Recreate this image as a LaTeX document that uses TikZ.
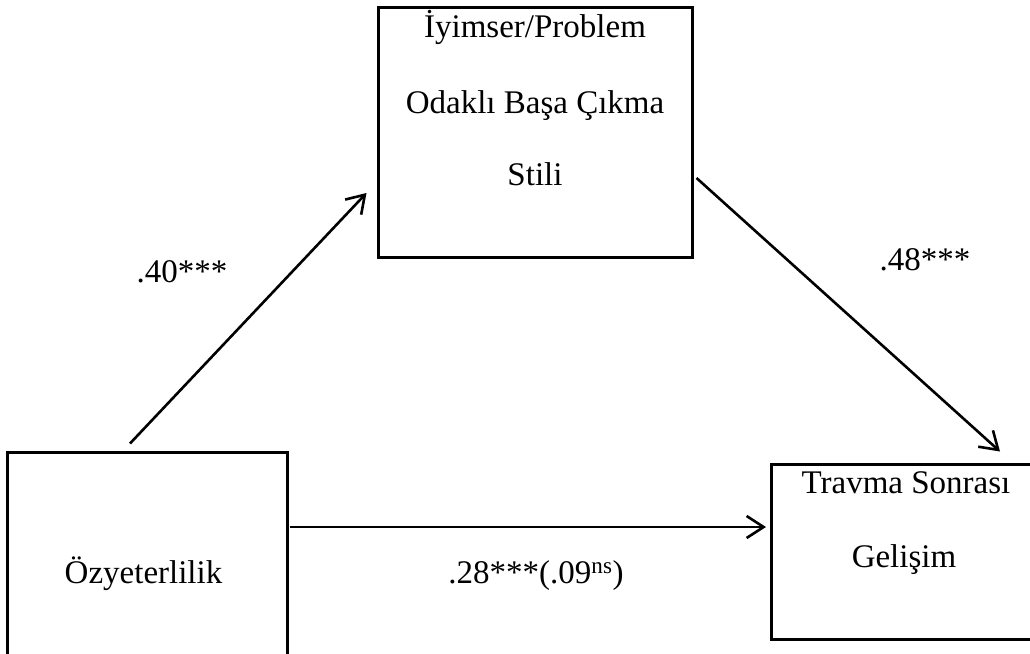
\documentclass[tikz,border=0pt]{standalone}
\usepackage{fontspec}
\setmainfont{Liberation Serif}
\usetikzlibrary{arrows.meta}
\begin{document}
\begin{tikzpicture}[x=1pt,y=-1pt,
  box/.style={draw, line width=3pt, minimum width=#1, inner sep=0pt},
  lbl/.style={inner sep=0pt, anchor=base, font=\fontsize{33}{40}\selectfont},
  arr/.style={line width=2.6pt, -{Straight Barb[length=17pt,width=22pt,line width=2.6pt]}}]
  \clip (0,0) rectangle (1030,653);
  \useasboundingbox (0,0) rectangle (1030,653);

  % boxes
  \node[box=314pt, minimum height=250pt] (cope) at (535,132) {};
  \node[box=280pt, minimum height=210pt] (self) at (147,557) {};
  \node[box=269pt, minimum height=175pt] (ptg)  at (905.5,551.5) {};

  % box texts
  \node[lbl] (c1) at (535,37)  {İyimser/Problem};
  \node[lbl] (c2) at (535,113) {Odaklı Başa Çıkma};
  \node[lbl] (c3) at (535,185) {Stili};
  \node[lbl] (s1) at (143.5,583) {Özyeterlilik};
  \node[lbl] (p1) at (906,493) {Travma Sonrası};
  \node[lbl] (p2) at (904,567) {Gelişim};

  % paths
  \draw[arr] ([xshift=-17pt,yshift=7pt]self.north) -- ([xshift=-10pt,yshift=-61pt]cope.west);
  \draw[arr] ([xshift=3pt,yshift=-46pt]cope.east) -- ([xshift=94.5pt,yshift=11pt]ptg.north);
  \draw[arr] ([xshift=1.5pt,yshift=30pt]self.east) -- ([xshift=-3.5pt,yshift=24.5pt]ptg.west);

  % coefficients
  \node[lbl] (a) at (182,282) {.40***};
  \node[lbl] (b) at (925,270) {.48***};
  \node[lbl] (c) at (536,583) {.28***(.09\textsuperscript{ns})};
\end{tikzpicture}
\end{document}
